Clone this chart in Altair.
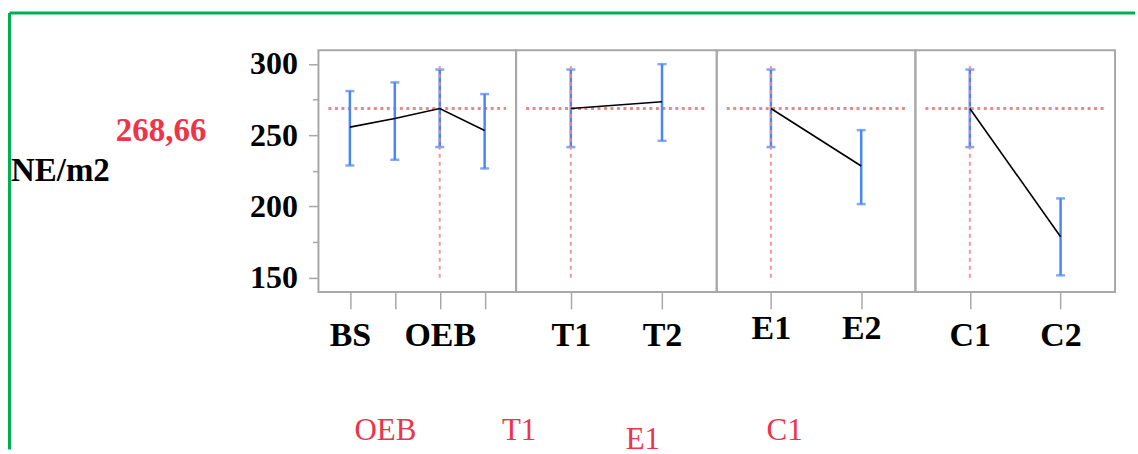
import altair as alt
import pandas as pd

# ---------------- data ----------------
y_label = "NE/m2"
ref_value = 268.66
ref_text = "268,66"

factors = ["OEB", "T1", "E1", "C1"]          # current setting shown under each panel
level_lists = [
    ["BS", "L2", "OEB", "L4"],
    ["T1", "T2"],
    ["E1", "E2"],
    ["C1", "C2"],
]
shown_labels = [["BS", "OEB"], ["T1", "T2"], ["E1", "E2"], ["C1", "C2"]]
mean_lists = [
    [255.6, 261.7, 268.66, 253.3],
    [268.66, 273.4],
    [268.66, 228.3],
    [268.66, 178.7],
]
upper_lists = [
    [280.9, 287.0, 296.0, 278.8],
    [296.0, 299.8],
    [296.0, 253.5],
    [296.0, 205.6],
]
lower_lists = [
    [228.7, 232.7, 241.6, 226.6],
    [241.6, 246.0],
    [241.6, 201.6],
    [241.6, 151.6],
]
y_ticks = [150, 175, 200, 225, 250, 275, 300]
vline_range = [150, 300]

# ---------------- style ----------------
FONT = "Liberation Serif"
RED = "#ef3349"
PINK = "#f3848f"
BLUE = "#4a86f5"
GRAY = "#a8a8a8"
GREEN = "#00b050"
panel_w = [198, 201, 199, 200]
panel_pad = [0.7, 0.6, 0.6, 0.6]
label_pad = [37, 37, 30, 37]
H = 242
y_scale = alt.Scale(domain=[140, 309.5], nice=False, zero=False)

panels = []
for i, fac in enumerate(factors):
    lv = level_lists[i]
    df = pd.DataFrame({
        "level": lv,
        "idx": list(range(len(lv))),
        "mean": mean_lists[i],
        "hi": upper_lists[i],
        "lo": lower_lists[i],
    })
    cur = pd.DataFrame({"level": [fac], "lo": [vline_range[0]], "hi": [vline_range[1]]})
    ref = pd.DataFrame({"v": [ref_value]})

    expr = " || ".join([f"datum.value == '{s}'" for s in shown_labels[i]])
    x_axis = alt.Axis(
        title=None, labelExpr=f"({expr}) ? datum.value : ''", labelAngle=0,
        tickSize=17, tickColor=GRAY, tickWidth=1.5, domain=False,
        labelFont=FONT, labelFontSize=34, labelFontWeight="bold", labelColor="black",
        labelBaseline="alphabetic", labelPadding=label_pad[i],
    )
    x_enc = alt.X("level:N", scale=alt.Scale(type="point", domain=lv, padding=panel_pad[i]), axis=x_axis)

    if i == 0:
        y_axis = alt.Axis(
            title=None, values=y_ticks,
            labelExpr="datum.value % 50 == 0 ? datum.label : ''",
            tickSize={"condition": {"test": "datum.value % 50 != 0", "value": 6}, "value": 10},
            tickColor=GRAY, tickWidth=1.5, domain=False, grid=False,
            labelFont=FONT, labelFontSize=32, labelFontWeight="bold", labelColor="black",
            labelPadding=11, labelOverlap=False,
        )
    else:
        y_axis = None

    hline = alt.Chart(ref).mark_rule(color=PINK, strokeWidth=3, strokeDash=[3, 3.5]).encode(
        x=alt.value(10), x2=alt.value(panel_w[i] - 10),
        y=alt.Y("v:Q", scale=y_scale, axis=y_axis),
    )
    bars = alt.Chart(df).mark_rule(color=BLUE, strokeWidth=2.5).encode(
        x=x_enc, y=alt.Y("lo:Q", scale=y_scale, axis=y_axis), y2="hi:Q"
    )
    cap_lo = alt.Chart(df).mark_tick(color=BLUE, size=9, thickness=2.5).encode(
        x=x_enc, y=alt.Y("lo:Q", scale=y_scale, axis=y_axis)
    )
    cap_hi = alt.Chart(df).mark_tick(color=BLUE, size=9, thickness=2.5).encode(
        x=x_enc, y=alt.Y("hi:Q", scale=y_scale, axis=y_axis)
    )
    vline = alt.Chart(cur).mark_rule(color=PINK, strokeWidth=2, strokeDash=[4, 4], opacity=0.85).encode(
        x=x_enc, y=alt.Y("lo:Q", scale=y_scale, axis=y_axis), y2="hi:Q"
    )
    line = alt.Chart(df).mark_line(color="black", strokeWidth=1.6).encode(
        x=x_enc, y=alt.Y("mean:Q", scale=y_scale, axis=y_axis), order="idx:O"
    )
    layers = [hline, bars, cap_lo, cap_hi, vline, line]

    if i == 0:
        gv = alt.Chart(pd.DataFrame({"a": [0]})).mark_rule(color=GREEN, strokeWidth=3).encode(
            x=alt.value(-309.5), y=alt.value(-37.5), y2=alt.value(400)
        )
        gh = alt.Chart(pd.DataFrame({"a": [0]})).mark_rule(color=GREEN, strokeWidth=3).encode(
            x=alt.value(-309.5), x2=alt.value(818), y=alt.value(-37.5)
        )
        t1 = alt.Chart(pd.DataFrame({"t": [y_label]})).mark_text(
            font=FONT, fontSize=33, fontWeight="bold", color="black", align="left", baseline="alphabetic"
        ).encode(text="t:N", x=alt.value(-308), y=alt.value(131))
        t2 = alt.Chart(pd.DataFrame({"t": [ref_text]})).mark_text(
            font=FONT, fontSize=33, fontWeight="bold", color=RED, align="left", baseline="alphabetic"
        ).encode(text="t:N", x=alt.value(-203), y=alt.value(91))
        lab_x = [67, 201, 325, 467]
        lab_y = [390, 390, 399, 390]
        for fx, lx, ly in zip(factors, lab_x, lab_y):
            layers.append(
                alt.Chart(pd.DataFrame({"t": [fx]})).mark_text(
                    font=FONT, fontSize=31, color=RED, align="center", baseline="alphabetic"
                ).encode(text="t:N", x=alt.value(lx), y=alt.value(ly))
            )
        layers += [gv, gh, t1, t2]

    panels.append(alt.layer(*layers).properties(width=panel_w[i], height=H))

chart = alt.hconcat(*panels, spacing=0, bounds="flush").properties(
    padding={"left": 7, "top": 10, "right": 0, "bottom": 0},
    background="white",
).configure_view(stroke=GRAY, strokeWidth=2)

chart.save("out.html", embed_options={"renderer": "svg", "actions": False})
